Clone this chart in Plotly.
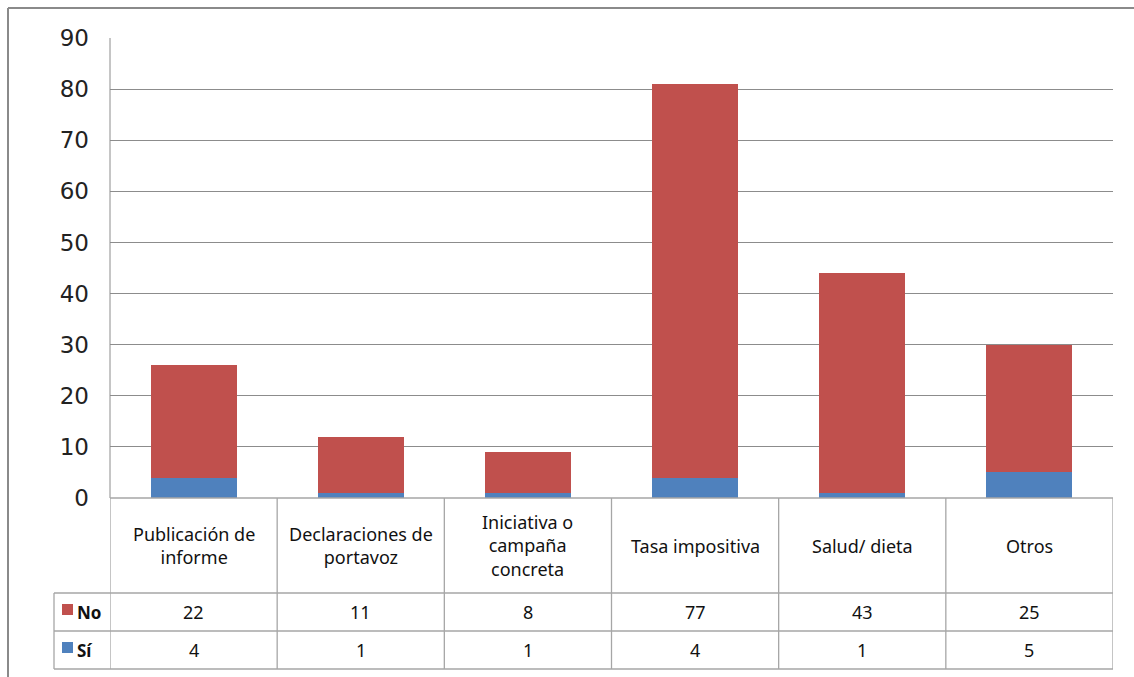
import plotly.graph_objects as go

# Categories and counts per answer
categories = ["Publicación de<br>informe", "Declaraciones de<br>portavoz",
              "Iniciativa o<br>campaña<br>concreta", "Tasa impositiva",
              "Salud/ dieta", "Otros"]
si_values = [4, 1, 1, 4, 1, 5]
no_values = [22, 11, 8, 77, 43, 25]
y_ticks = [0, 10, 20, 30, 40, 50, 60, 70, 80, 90]

W, H = 1134, 677
RED = "#C0504D"
BLUE = "#4F81BD"
GRID = "#8c8c8c"
TABLE = "#a6a6a6"
FONT = "Noto Sans"
TICK_FONT = "DejaVu Sans"

# pixel helpers for paper coordinates
def px(x):
    return x / W

def py(y):
    return 1 - y / H

plot_left, plot_right = 110, 1113
plot_top, plot_bottom = 38, 498
row_cat_bottom, row_no_bottom, row_si_bottom = 593, 631, 669
label_left = 54

xs = list(range(len(categories)))

fig = go.Figure()
fig.add_trace(go.Bar(x=xs, y=si_values, name="Sí", marker=dict(color=BLUE, line=dict(width=0))))
fig.add_trace(go.Bar(x=xs, y=no_values, name="No", marker=dict(color=RED, line=dict(width=0))))

shapes = []
# outer chart frame (left and top edges)
shapes.append(dict(type="line", xref="paper", yref="paper", x0=px(8), x1=px(8), y0=py(8), y1=py(H + 5),
                   line=dict(color="#8a8a8a", width=2)))
shapes.append(dict(type="line", xref="paper", yref="paper", x0=px(8), x1=1.01, y0=py(8), y1=py(8),
                   line=dict(color="#8a8a8a", width=2)))
# left border of plot area
shapes.append(dict(type="line", xref="paper", yref="paper", x0=px(plot_left), x1=px(plot_left),
                   y0=py(plot_top), y1=py(plot_bottom), line=dict(color=GRID, width=1)))

# data table: horizontal rules
for yy, x0 in [(plot_bottom, plot_left), (row_cat_bottom, label_left),
               (row_no_bottom, label_left), (row_si_bottom, label_left)]:
    shapes.append(dict(type="line", xref="paper", yref="paper", x0=px(x0), x1=px(plot_right),
                       y0=py(yy), y1=py(yy), line=dict(color=TABLE, width=1.3)))
# data table: vertical rules at category boundaries
for i in range(len(categories) + 1):
    shapes.append(dict(type="line", xref="x", yref="paper", x0=i - 0.5, x1=i - 0.5,
                       y0=py(plot_bottom), y1=py(row_si_bottom), line=dict(color=TABLE, width=1.3)))
# left edge of the series label column
shapes.append(dict(type="line", xref="paper", yref="paper", x0=px(label_left), x1=px(label_left),
                   y0=py(row_cat_bottom), y1=py(row_si_bottom), line=dict(color=TABLE, width=1.3)))
# legend keys inside the table
for color, yc in [(RED, 609.5), (BLUE, 647.5)]:
    shapes.append(dict(type="rect", xref="paper", yref="paper", x0=px(62), x1=px(73),
                       y0=py(yc + 5.5), y1=py(yc - 5.5), fillcolor=color, line=dict(width=0)))

annotations = []
cat_mid = (plot_bottom + row_cat_bottom) / 2
no_mid = (row_cat_bottom + row_no_bottom) / 2
si_mid = (row_no_bottom + row_si_bottom) / 2
for i, cat in enumerate(categories):
    annotations.append(dict(x=i, y=py(cat_mid), xref="x", yref="paper", text=cat, showarrow=False,
                            font=dict(family=FONT, size=18, color="#111"), align="center",
                            xanchor="center", yanchor="middle"))
    annotations.append(dict(x=i, y=py(no_mid), xref="x", yref="paper", text=str(no_values[i]),
                            showarrow=False, font=dict(family=FONT, size=18, color="#111"),
                            xanchor="center", yanchor="middle"))
    annotations.append(dict(x=i, y=py(si_mid), xref="x", yref="paper", text=str(si_values[i]),
                            showarrow=False, font=dict(family=FONT, size=18, color="#111"),
                            xanchor="center", yanchor="middle"))
for label, yc in [("<b>No</b>", no_mid), ("<b>Sí</b>", si_mid)]:
    annotations.append(dict(x=px(75), y=py(yc), xref="paper", yref="paper", text=label, showarrow=False,
                            font=dict(family=FONT, size=17, color="#111"), xanchor="left", yanchor="middle"))

fig.update_layout(
    width=W, height=H,
    margin=dict(l=0, r=0, t=0, b=0),
    paper_bgcolor="white", plot_bgcolor="white",
    barmode="stack", bargap=0.485,
    showlegend=False,
    shapes=shapes, annotations=annotations,
    xaxis=dict(domain=[px(plot_left), px(plot_right)], range=[-0.5, len(categories) - 0.5],
               showticklabels=False, showgrid=False, zeroline=False, ticks="", fixedrange=True,
               automargin=False),
    yaxis=dict(domain=[py(plot_bottom), py(plot_top)], range=[0, 90], tickvals=y_ticks,
               showgrid=True, gridcolor=GRID, gridwidth=1, zeroline=False, ticks="",
               tickfont=dict(family=TICK_FONT, size=23, color="#222"), ticklabelstandoff=20,
               fixedrange=True, automargin=False),
    font=dict(family=FONT),
)

fig.write_html("out.html")
